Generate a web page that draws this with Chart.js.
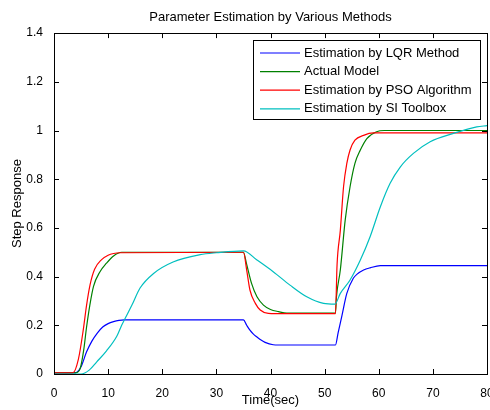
<!DOCTYPE html>
<html>
<head>
<meta charset="utf-8">
<script src="https://cdn.jsdelivr.net/npm/chart.js@4/dist/chart.umd.min.js"></script>
<style>
  html, body { margin: 0; padding: 0; background: #fff; }
  #wrap { width: 490px; height: 410px; position: relative; }
</style>
</head>
<body>
<div id="wrap"><canvas id="chart"></canvas></div>
<script>
// series (time in sec, step response)
const lqrT = [0, 4, 5, 6, 7, 8, 9, 10, 11, 12, 13, 35, 35.6, 36.2, 36.8, 37.5, 38.1, 39, 40.5, 41.5, 52, 52.5, 53.2, 54.1, 55.3, 56, 57.2, 58.4, 60.3, 80];
const lqrY = [0.005, 0.006, 0.03, 0.09, 0.135, 0.168, 0.193, 0.207, 0.215, 0.22, 0.222, 0.222, 0.2, 0.18, 0.165, 0.152, 0.142, 0.13, 0.12, 0.119, 0.119, 0.17, 0.24, 0.331, 0.393, 0.41, 0.427, 0.436, 0.445, 0.445];

const actualT = [0, 4, 4.8, 5.5, 6, 6.6, 7.3, 8.5, 9.7, 11, 12.5, 35, 35.6, 36.5, 37.5, 38.7, 40, 41.5, 43, 52, 52.2, 52.9, 53.8, 54.7, 55.6, 56.6, 57.8, 59.6, 61, 80];
const actualY = [0.005, 0.005, 0.02, 0.1, 0.19, 0.28, 0.36, 0.42, 0.455, 0.485, 0.5, 0.5, 0.45, 0.372, 0.317, 0.283, 0.265, 0.256, 0.25, 0.25, 0.32, 0.427, 0.632, 0.769, 0.865, 0.92, 0.967, 0.995, 1.0, 1.0];

const psoT = [0, 3.5, 4.5, 5.4, 6, 6.65, 7.5, 8.8, 10, 11, 12.2, 35, 35.6, 36.2, 37.2, 38.1, 39.6, 41, 52, 52.3, 52.9, 53.5, 54.1, 54.7, 55.6, 57.2, 59, 80];
const psoY = [0.005, 0.005, 0.06, 0.18, 0.28, 0.365, 0.43, 0.47, 0.488, 0.495, 0.498, 0.5, 0.427, 0.345, 0.29, 0.263, 0.249, 0.248, 0.248, 0.45, 0.59, 0.77, 0.865, 0.92, 0.96, 0.98, 0.99, 0.99];

const siT = [0, 5, 6.5, 7.9, 9.7, 11.6, 12.5, 14.4, 15.9, 18.4, 22, 27, 30, 35, 37.5, 40.5, 43.6, 46.7, 49.8, 51.9, 52.9, 54.7, 56.6, 58.4, 60.3, 62.1, 64, 66.4, 69.5, 73.8, 78.1, 80];
const siY = [0, 0, 0.016, 0.05, 0.095, 0.155, 0.2, 0.283, 0.353, 0.413, 0.46, 0.49, 0.498, 0.506, 0.468, 0.42, 0.365, 0.317, 0.29, 0.287, 0.331, 0.386, 0.468, 0.564, 0.687, 0.783, 0.851, 0.906, 0.954, 0.988, 1.015, 1.02];

const seriesNames = ['Estimation by LQR Method', 'Actual Model', 'Estimation by PSO Algorithm', 'Estimation by SI Toolbox'];
const seriesColors = ['#0000ff', '#008000', '#ff0000', '#00bfbf'];
const xTicks = [0, 10, 20, 30, 40, 50, 60, 70, 80];
const yTicks = [0, 0.2, 0.4, 0.6, 0.8, 1, 1.2, 1.4];

const FONT = 'Liberation Sans, Arial, sans-serif';

function pts(ts, ys) {
  return ts.map((t, i) => ({ x: t, y: ys[i] }));
}

const allT = [lqrT, actualT, psoT, siT];
const allY = [lqrY, actualY, psoY, siY];

const datasets = seriesNames.map((name, i) => ({
  label: name,
  data: pts(allT[i], allY[i]),
  borderColor: seriesColors[i],
  borderWidth: 1.2,
  pointRadius: 0,
  fill: false,
  cubicInterpolationMode: 'monotone',
  order: seriesNames.length - i
}));

// matlab style box, inward ticks and legend inside the axes
const boxPlugin = {
  id: 'boxPlugin',
  afterDraw(chart) {
    const ctx = chart.ctx;
    const a = chart.chartArea;
    const xs = chart.scales.x, ys = chart.scales.y;
    ctx.save();
    ctx.strokeStyle = '#000';
    ctx.lineWidth = 1;
    ctx.beginPath();
    xTicks.forEach(v => {
      const px = Math.round(xs.getPixelForValue(v)) + 0.5;
      ctx.moveTo(px, a.bottom); ctx.lineTo(px, a.bottom - 5);
      ctx.moveTo(px, a.top); ctx.lineTo(px, a.top + 5);
    });
    yTicks.forEach(v => {
      const py = Math.round(ys.getPixelForValue(v)) + 0.5;
      ctx.moveTo(a.left, py); ctx.lineTo(a.left + 5, py);
      ctx.moveTo(a.right, py); ctx.lineTo(a.right - 5, py);
    });
    ctx.stroke();
    ctx.strokeRect(Math.round(a.left) + 0.5, Math.round(a.top) + 0.5,
      Math.round(a.right - a.left), Math.round(a.bottom - a.top));

    // legend
    const lx = 253, ly = 40, lw = 227, lh = 79;
    ctx.fillStyle = '#fff';
    ctx.fillRect(lx, ly, lw, lh);
    ctx.strokeRect(lx + 0.5, ly + 0.5, lw, lh);
    ctx.font = '13px ' + FONT;
    ctx.textBaseline = 'middle';
    seriesNames.forEach((name, i) => {
      const y = ly + 13 + i * 18.6;
      ctx.strokeStyle = seriesColors[i];
      ctx.lineWidth = 1.2;
      ctx.beginPath();
      ctx.moveTo(lx + 7, y); ctx.lineTo(lx + 47, y);
      ctx.stroke();
      ctx.fillStyle = '#000';
      ctx.fillText(name, lx + 51, y);
    });
    ctx.restore();
  }
};

new Chart(document.getElementById('chart'), {
  type: 'line',
  data: { datasets },
  options: {
    responsive: true,
    maintainAspectRatio: false,
    animation: false,
    layout: { padding: { left: 0, right: 3, top: 0, bottom: 0 } },
    plugins: {
      legend: { display: false },
      tooltip: { enabled: false },
      title: {
        display: true,
        fullSize: false,
        text: 'Parameter Estimation by Various Methods',
        color: '#000',
        font: { family: FONT, size: 13, weight: 'normal' },
        padding: { top: 10, bottom: 7.5 }
      }
    },
    scales: {
      x: {
        type: 'linear',
        min: 0, max: 80,
        afterBuildTicks: s => { s.ticks = xTicks.map(v => ({ value: v })); },
        afterFit: s => { s.height = 36; s.paddingRight = 0; s.paddingLeft = 0; },
        grid: { display: false },
        border: { display: false },
        ticks: { color: '#000', font: { family: FONT, size: 12 }, padding: 4, maxRotation: 0 },
        title: { display: true, text: 'Time(sec)', color: '#000', font: { family: FONT, size: 13 }, padding: { top: 0, bottom: 2 } }
      },
      y: {
        type: 'linear',
        min: 0, max: 1.4,
        afterBuildTicks: s => { s.ticks = yTicks.map(v => ({ value: v })); },
        afterFit: s => { s.width = 54; s.paddingTop = 0; s.paddingBottom = 0; },
        grid: { display: false },
        border: { display: false },
        ticks: { color: '#000', font: { family: FONT, size: 12 }, padding: 3, callback: v => String(+v.toFixed(1)) },
        title: { display: true, text: 'Step Response', color: '#000', font: { family: FONT, size: 13 }, padding: { top: 10, bottom: 0 } }
      }
    }
  },
  plugins: [boxPlugin]
});
</script>
</body>
</html>
